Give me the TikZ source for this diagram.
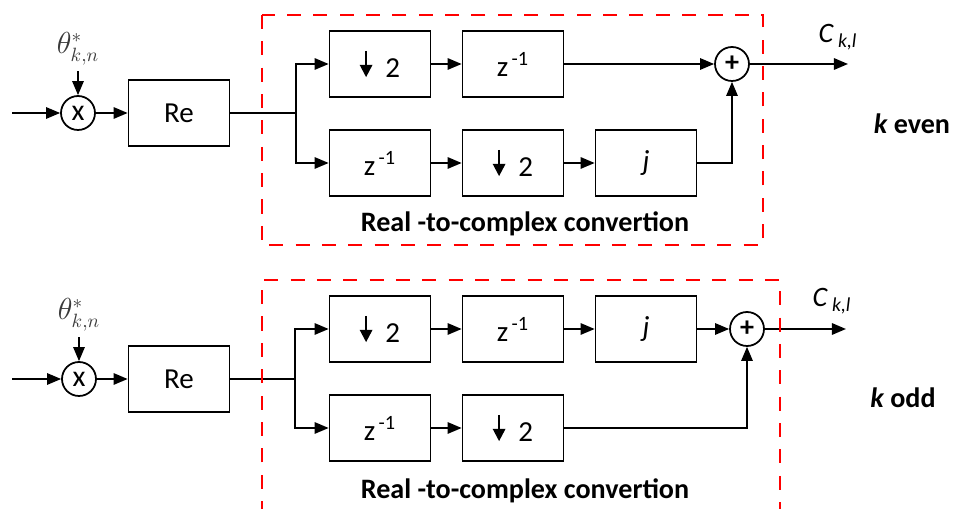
\documentclass[tikz,border=0pt]{standalone}
\usepackage{fontspec}
\setmainfont{Carlito}
\usepackage{xcolor}
\usetikzlibrary{arrows.meta,positioning}
\definecolor{FrameRed}{HTML}{FF0000}
\definecolor{ThetaGray}{HTML}{3A3A3A}
\newcommand{\dnarrow}{\tikz[baseline=0pt]\draw[line width=1.2pt,-{Triangle[length=7pt,width=7pt]}] (0pt,15pt)--(0pt,0pt);}
\newcommand{\zinv}{z\textsuperscript{\,-1}}

\tikzset{
  blk/.style={draw,line width=1pt,minimum width=2.02cm,minimum height=1.32cm,inner sep=0pt,font=\fontsize{16.5}{18}\selectfont},
  opc/.style={draw,circle,line width=1pt,minimum size=0.68cm,inner sep=0pt,font=\fontsize{17}{18}\selectfont},
  sig/.style={line width=1pt,-{Triangle[length=8pt,width=6.5pt]}},
  wire/.style={line width=1pt},
  frame/.style={FrameRed,line width=0.8pt,dash pattern=on 8pt off 7pt},
  caption/.style={font=\fontsize{16}{18}\selectfont\bfseries},
}

\begin{document}
\begin{tikzpicture}[x=0.02cm,y=-0.02cm]
\useasboundingbox (0,0) rectangle (954,509);
% k even
\coordinate (in1) at (12,113);
\node[opc] (mul1) at (78,113) {x};
\node[text=ThetaGray,font=\fontsize{16}{18}\selectfont] (th1) at (78,49) {$\theta^{*}_{k,n}$};
\node[blk] (re1) at (179,113) {Re};
\coordinate (br1) at (296,113);
\node[blk] (dn1) at (380,64) {\dnarrow\ \ 2};
\node[blk] (dl1) at (513,64) {\zinv};
\node[blk] (dl2) at (380,163) {\zinv};
\node[blk] (dn2) at (513,163) {\dnarrow\ \ 2};
\node[blk] (jj1) at (646,163) {\itshape j};
\node[opc,font=\fontsize{16}{18}\selectfont\bfseries] (add1) at (732,64) {+};
\coordinate (out1) at (848,64);
\node[font=\fontsize{16}{18}\selectfont\itshape] (ck1) at (838,37) {C\,\textsubscript{k,l}};
\draw[sig] (in1) -- (mul1);
\draw[sig] (th1) -- (mul1);
\draw[sig] (mul1) -- (re1);
\draw[wire] (re1) -- (br1);
\draw[sig] (br1) |- (dn1);
\draw[sig] (br1) |- (dl2);
\draw[sig] (dn1) -- (dl1);
\draw[sig] (dl2) -- (dn2);
\draw[sig] (dn2) -- (jj1);
\draw[sig] (dl1) -- (add1);
\draw[sig] (jj1) -| (add1);
\draw[sig] (add1) -- (out1);
\draw[frame] (262,15) rectangle (763,245);
\node[caption] (cap1) at (525,224) {Real -to-complex convertion};
\node[caption] (ev) at (912,124) {\itshape k\upshape\ even};
% k odd
\coordinate (in2) at (12,379);
\node[opc] (mul2) at (79,379) {x};
\node[text=ThetaGray,font=\fontsize{16}{18}\selectfont] (th2) at (79,315) {$\theta^{*}_{k,n}$};
\node[blk] (re2) at (179,379) {Re};
\coordinate (br2) at (295,379);
\node[blk] (dn3) at (380,329) {\dnarrow\ \ 2};
\node[blk] (dl3) at (513,329) {\zinv};
\node[blk] (jj2) at (646,329) {\itshape j};
\node[blk] (dl4) at (380,428) {\zinv};
\node[blk] (dn4) at (513,428) {\dnarrow\ \ 2};
\node[opc,font=\fontsize{16}{18}\selectfont\bfseries] (add2) at (747,329) {+};
\coordinate (out2) at (846,329);
\node[font=\fontsize{16}{18}\selectfont\itshape] (ck2) at (832,301) {C\,\textsubscript{k,l}};
\draw[sig] (in2) -- (mul2);
\draw[sig] (th2) -- (mul2);
\draw[sig] (mul2) -- (re2);
\draw[wire] (re2) -- (br2);
\draw[sig] (br2) |- (dn3);
\draw[sig] (br2) |- (dl4);
\draw[sig] (dn3) -- (dl3);
\draw[sig] (dl3) -- (jj2);
\draw[sig] (jj2) -- (add2);
\draw[sig] (dl4) -- (dn4);
\draw[sig] (dn4) -| (add2);
\draw[sig] (add2) -- (out2);
\draw[frame] (262,515) -- (262,280) -- (780,280) -- (780,515);
\node[caption] (cap2) at (525,491) {Real -to-complex convertion};
\node[caption] (od) at (903,398) {\itshape k\upshape\ odd};
\end{tikzpicture}
\end{document}
